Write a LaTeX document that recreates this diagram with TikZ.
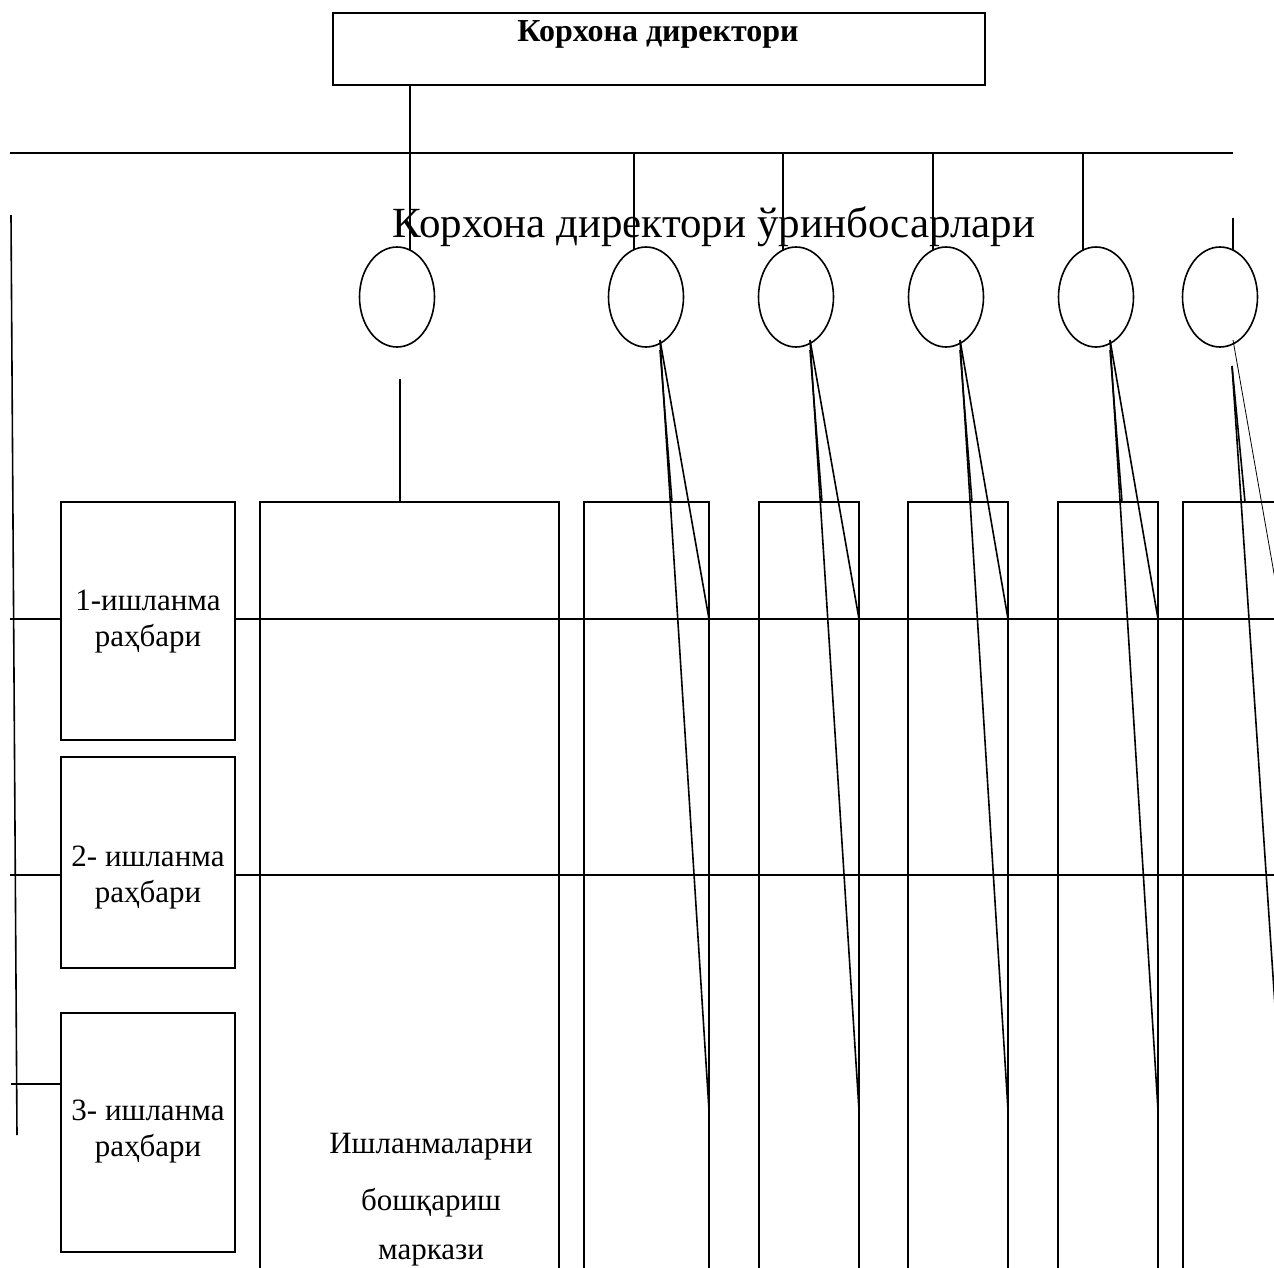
\documentclass[tikz,border=0pt]{standalone}
\usepackage{fontspec}
\setmainfont{Liberation Serif}
\usetikzlibrary{shapes.geometric}
\begin{document}
\begin{tikzpicture}[x=1pt,y=-1pt,line width=1.6pt,
  box/.style={draw, anchor=north west, inner sep=0pt, outer sep=0pt},
  wbox/.style={box, fill=white},
  oval/.style={draw, ellipse, minimum width=75pt, minimum height=100pt, inner sep=0pt, outer sep=0pt},
  txt/.style={anchor=base, inner sep=0pt, font=\fontsize{31}{36}\selectfont},
  thin line/.style={line width=0.8pt}]
\useasboundingbox (0,0) rectangle (1274,1267);
\clip (0,0) rectangle (1274,1267);

% director
\node[box, minimum width=652pt, minimum height=72pt] (dir) at (333,13) {};
\node[anchor=base, inner sep=0pt, font=\fontsize{32}{36}\selectfont\bfseries] (dirt) at (658,41) {Корхона директори};

% bus
\coordinate (busL) at (10,153);
\coordinate (busR) at (1233,153);
\draw (busL) -- (busR);

% subtitle
\node[anchor=base, inner sep=0pt, font=\fontsize{43}{50}\selectfont] (sub) at (714,237) {Корхона директори ўринбосарлари};

% ovals
\foreach \n/\x in {1/397,2/646,3/796,4/946,5/1096,6/1220}
  \node[oval] (o\n) at (\x,297) {};

% director line
\coordinate (dd) at (410,250);
\draw (dir.south -| dd) -- (dd);

% bus drops
\foreach \n/\x in {2/634,3/783,4/933,5/1083} {
  \coordinate (t\n) at (\x,250);
  \draw (busL -| t\n) -- (t\n);
}
\coordinate (t6a) at (1233,218);
\coordinate (t6) at (1233,250);
\draw (t6a) -- (t6);

% left vertical
\coordinate (lvT) at (11,215);
\coordinate (lvB) at (17,1135);
\draw (lvT) -- (lvB);

% big and column boxes
\node[box, minimum width=299pt, minimum height=900pt] (big) at (260,502) {};
\node[box, minimum width=125pt, minimum height=900pt] (k1) at (584,502) {};
\node[box, minimum width=100pt, minimum height=900pt] (k2) at (759,502) {};
\node[box, minimum width=100pt, minimum height=900pt] (k3) at (908,502) {};
\node[box, minimum width=100pt, minimum height=900pt] (k4) at (1058,502) {};
\node[box, minimum width=130pt, minimum height=900pt] (k5) at (1183,502) {};

% oval 1 to big box
\coordinate (o1d) at (400,379);
\draw (o1d) -- (o1d |- big.north);

% horizontal lines
\coordinate (h1L) at (10,619);
\coordinate (h1R) at (1274,619);
\draw (h1L) -- (h1R);
\coordinate (h2L) at (10,875);
\coordinate (h2R) at (1274,875);
\draw (h2L) -- (h2R);

% left boxes
\node[wbox, minimum width=174pt, minimum height=238pt] (b1) at (61,502) {};
\node[wbox, minimum width=174pt, minimum height=211pt] (b2) at (61,757) {};
\node[wbox, minimum width=174pt, minimum height=239pt] (b3) at (61,1013) {};
\coordinate (h3L) at (11,1084);
\draw (h3L) -- (h3L -| b3.west);

\node[txt] (b1a) at (148,610) {1-ишланма};
\node[txt] (b1b) at (148,646) {раҳбари};
\node[txt] (b2a) at (148,866) {2- ишланма};
\node[txt] (b2b) at (148,902) {раҳбари};
\node[txt] (b3a) at (148,1120) {3- ишланма};
\node[txt] (b3b) at (148,1156) {раҳбари};

\node[txt] (m1) at (431,1153) {Ишланмаларни};
\node[txt] (m2) at (431,1210) {бошқариш};
\node[txt] (m3) at (431,1259) {маркази};

% diagonal connectors
\foreach \k/\px/\r in {1/660/709, 2/810/859, 3/960/1008, 4/1110/1158} {
  \coordinate (p\k) at (\px,340);
  \coordinate (q\k) at (\r,619);
  \coordinate (s\k) at (\r,1110);
  \coordinate (u\k) at (\px,350);
  \coordinate (v\k) at (\px+12,502);
  \draw (p\k) -- (q\k);
  \draw (p\k) -- (s\k);
  \draw (u\k) -- (v\k);
}
\coordinate (p5) at (1233,340);
\coordinate (q5) at (1282,619);
\coordinate (u5) at (1232,366);
\coordinate (s5) at (1282,1110);
\coordinate (v5) at (1245,502);
\draw[thin line] (p5) -- (q5);
\draw (u5) -- (s5);
\draw (u5) -- (v5);
\end{tikzpicture}
\end{document}
